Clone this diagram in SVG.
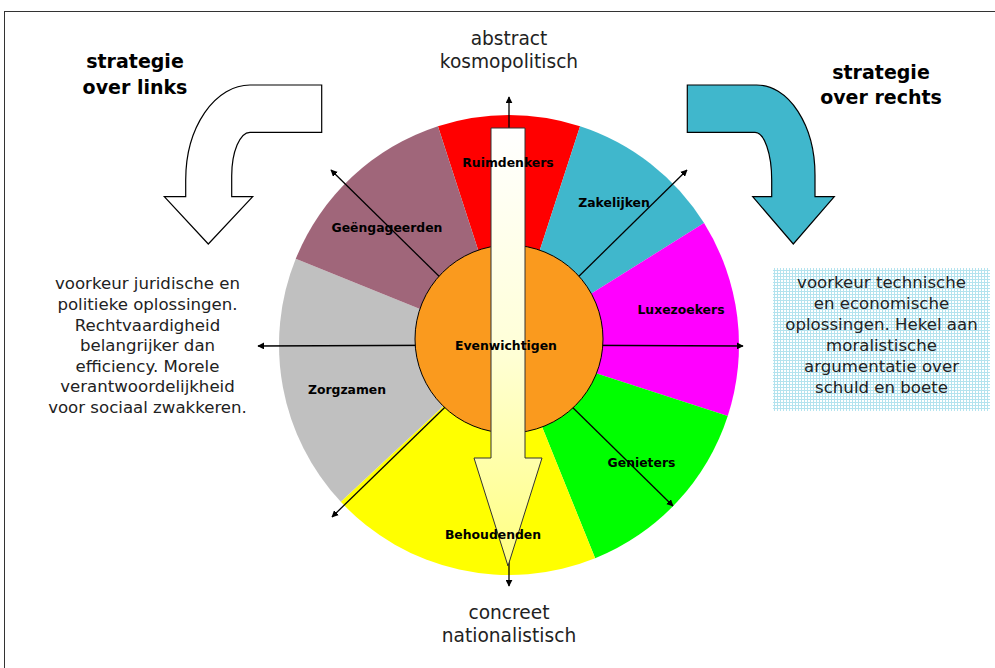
<svg xmlns="http://www.w3.org/2000/svg" width="995" height="668" viewBox="0 0 995 668">
<defs>
<style>
.side{font-family:"DejaVu Sans","Verdana",sans-serif;font-size:16.6px;fill:#222;text-anchor:middle}
.axis{font-family:"DejaVu Sans","Verdana",sans-serif;font-size:18.6px;fill:#222;text-anchor:middle}
.strat{font-family:"DejaVu Sans","Verdana",sans-serif;font-size:19px;font-weight:bold;fill:#000;text-anchor:middle}
.lbl{font-family:"DejaVu Sans","Verdana",sans-serif;font-size:12.4px;font-weight:bold;fill:#000;text-anchor:middle}
.conn{stroke:#000;stroke-width:1.3;fill:none;marker-end:url(#ah)}
</style>
<marker id="ah" viewBox="0 0 10 10" refX="9" refY="5" markerWidth="7" markerHeight="7" markerUnits="userSpaceOnUse" orient="auto">
<path d="M0,0 L10,5 L0,10 Z" fill="#000"/>
</marker>
<linearGradient id="vg" gradientUnits="userSpaceOnUse" x1="0" y1="128" x2="0" y2="566">
<stop offset="0" stop-color="#ffffff"/>
<stop offset="0.5" stop-color="#ffffd8"/>
<stop offset="1" stop-color="#ffff80"/>
</linearGradient>
<pattern id="dots" width="3" height="3" patternUnits="userSpaceOnUse">
<rect width="3" height="3" fill="#ffffff"/>
<rect width="3" height="1" fill="#b4e3ee"/>
<rect width="1" height="3" fill="#b4e3ee"/>
</pattern>
</defs>
<rect width="995" height="668" fill="#ffffff"/>
<rect x="4.5" y="11.5" width="1000" height="700" fill="none" stroke="#333" stroke-width="1"/>

<g id="wheel">
<path id="slice-ruimdenkers" d="M509,345 L437.93,126.25 A230,230 0 0 1 580.07,126.25 Z" fill="#ff0000"/>
<path id="slice-zakelijken" d="M509,345 L580.07,126.25 A230,230 0 0 1 704.04,223.12 Z" fill="#40b7cc"/>
<path id="slice-luxezoekers" d="M509,345 L704.04,223.12 A230,230 0 0 1 727.75,416.07 Z" fill="#ff00ff"/>
<path id="slice-genieters" d="M509,345 L727.75,416.07 A230,230 0 0 1 595.16,558.25 Z" fill="#00ff00"/>
<path id="slice-behoudenden" d="M509,345 L595.16,558.25 A230,230 0 0 1 340.79,501.86 Z" fill="#ffff00"/>
<path id="slice-zorgzamen" d="M509,345 L340.79,501.86 A230,230 0 0 1 295.75,258.84 Z" fill="#c0c0c0"/>
<path id="slice-geengageerden" d="M509,345 L295.75,258.84 A230,230 0 0 1 437.93,126.25 Z" fill="#a0667a"/>
</g>

<g id="connectors">
<line class="conn" x1="509" y1="345" x2="258" y2="346"/>
<line class="conn" x1="509" y1="345" x2="743" y2="346"/>
<line class="conn" x1="509" y1="345" x2="331" y2="170"/>
<line class="conn" x1="509" y1="345" x2="673" y2="506"/>
<line class="conn" x1="509" y1="345" x2="687" y2="170"/>
<line class="conn" x1="509" y1="345" x2="332" y2="517"/>
<line class="conn" x1="509" y1="345" x2="509" y2="97"/>
<line class="conn" x1="509" y1="345" x2="509" y2="586"/>
</g>

<g id="evenwichtigen">
<circle cx="509" cy="339" r="94" fill="#fa9a1e" stroke="#000" stroke-width="1"/>
</g>

<g id="vertical-arrow">
<path d="M491,128 L525,128 L525,458 L542,458 L508,566 L474,458 L491,458 Z" fill="url(#vg)" stroke="#333" stroke-width="1"/>
</g>

<g id="labels">
<text class="lbl" x="508" y="166.5">Ruimdenkers</text>
<text class="lbl" x="614" y="206.5">Zakelijken</text>
<text class="lbl" x="387" y="231.5">Geëngageerden</text>
<text class="lbl" x="681" y="313.5">Luxezoekers</text>
<text class="lbl" x="506" y="349.5">Evenwichtigen</text>
<text class="lbl" x="347" y="393.5">Zorgzamen</text>
<text class="lbl" x="641.5" y="467">Genieters</text>
<text class="lbl" x="493" y="538.5">Behoudenden</text>
</g>

<g id="arrow-links">
<path d="M321.7,85 L250,85 A64.3,95 0 0 0 185.7,180 L185.7,196.7 L164.3,196.7 L208.3,244 L252.7,196.7 L231.7,196.7 L231.7,176 A18.3,43.7 0 0 1 250,132.3 L321.7,132.3 Z" fill="#ffffff" stroke="#000" stroke-width="1.2"/>
</g>
<g id="arrow-rechts">
<path d="M687.3,85 L756.7,85 A58.3,90 0 0 1 815,175 L815,196.7 L834.3,196.7 L793.3,244 L752.7,196.7 L771.7,196.7 L771.7,180 A16.7,47.7 0 0 0 755,132.3 L687.3,132.3 Z" fill="#40b7cc" stroke="#000" stroke-width="1.2"/>
</g>

<g id="strategie-links">
<text class="strat" x="135" y="68">strategie</text>
<text class="strat" x="135" y="93.5">over links</text>
</g>
<g id="strategie-rechts">
<text class="strat" x="881" y="79">strategie</text>
<text class="strat" x="881" y="104">over rechts</text>
</g>

<g id="top-label">
<text class="axis" x="509" y="45">abstract</text>
<text class="axis" x="509" y="68">kosmopolitisch</text>
</g>
<g id="bottom-label">
<text class="axis" x="509" y="619">concreet</text>
<text class="axis" x="509" y="642">nationalistisch</text>
</g>

<g id="text-links">
<text class="side" x="147.5" y="289.3">voorkeur juridische en</text>
<text class="side" x="147.5" y="309.9">politieke oplossingen.</text>
<text class="side" x="147.5" y="330.5">Rechtvaardigheid</text>
<text class="side" x="147.5" y="351.1">belangrijker dan</text>
<text class="side" x="147.5" y="371.7">efficiency. Morele</text>
<text class="side" x="147.5" y="392.3">verantwoordelijkheid</text>
<text class="side" x="147.5" y="412.9">voor sociaal zwakkeren.</text>
</g>

<g id="text-rechts">
<rect x="773" y="268" width="217" height="143" fill="url(#dots)"/>
<text class="side" x="881.5" y="288.3">voorkeur technische</text>
<text class="side" x="881.5" y="309.3">en economische</text>
<text class="side" x="881.5" y="330.3">oplossingen. Hekel aan</text>
<text class="side" x="881.5" y="351.3">moralistische</text>
<text class="side" x="881.5" y="372.3">argumentatie over</text>
<text class="side" x="881.5" y="393.3">schuld en boete</text>
</g>
</svg>
